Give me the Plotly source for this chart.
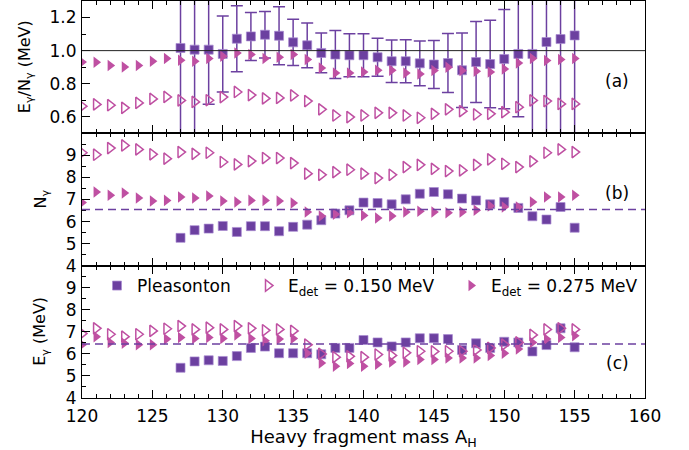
import plotly.graph_objects as go
from plotly.subplots import make_subplots

# Heavy fragment mass numbers
mass_ple = list(range(127, 156))
mass_cal = list(range(120, 156))

# Panel (a): E_gamma / N_gamma (MeV)
ratio_ple = [1.016, 1.006, 1.006, 0.980, 1.072, 1.086, 1.096, 1.090, 1.050, 1.032,
             0.986, 0.976, 0.972, 0.972, 0.960, 0.936, 0.936, 0.923, 0.916, 0.925,
             0.881, 0.931, 0.919, 0.949, 0.980, 0.980, 1.052, 1.070, 1.092]
ratio_ple_err = [0.60, 0.60, 0.33, 0.23, 0.20, 0.145, 0.14, 0.175, 0.14, 0.135,
                 0.12, 0.145, 0.13, 0.13, 0.115, 0.128, 0.13, 0.135, 0.145, 0.178,
                 0.225, 0.245, 0.265, 0.30, 0.38, 0.60, 0.60, 0.60, 0.60]
ratio_150 = [0.664, 0.675, 0.670, 0.654, 0.684, 0.708, 0.720, 0.699, 0.690, 0.700,
             0.719, 0.750, 0.731, 0.711, 0.714, 0.729, 0.695, 0.645, 0.608, 0.598,
             0.608, 0.624, 0.624, 0.608, 0.594, 0.618, 0.645, 0.634, 0.614, 0.618,
             0.628, 0.658, 0.699, 0.695, 0.678, 0.678]
ratio_275 = [0.931, 0.930, 0.910, 0.901, 0.910, 0.936, 0.952, 0.942, 0.936, 0.952,
             0.966, 0.986, 0.976, 0.952, 0.960, 0.976, 0.946, 0.895, 0.865, 0.865,
             0.871, 0.881, 0.881, 0.865, 0.859, 0.880, 0.900, 0.880, 0.875, 0.871,
             0.889, 0.925, 0.952, 0.940, 0.946, 0.952]

# Panel (b): photon multiplicity N_gamma
n_ple = [5.26, 5.61, 5.68, 5.80, 5.53, 5.79, 5.79, 5.56, 5.76, 5.86,
         6.06, 6.36, 6.51, 6.86, 6.84, 6.78, 7.01, 7.26, 7.34, 7.24,
         7.04, 6.96, 6.78, 6.89, 6.62, 6.24, 6.09, 6.66, 5.72]
n_150 = [9.12, 9.03, 9.33, 9.45, 9.27, 9.05, 8.85, 9.15, 9.07, 9.12,
         8.70, 8.59, 8.74, 8.88, 8.88, 8.65, 8.17, 8.12, 8.24, 8.35,
         8.17, 7.97, 8.12, 8.47, 8.57, 8.39, 8.29, 8.32, 8.57, 8.82,
         8.62, 8.47, 8.73, 9.12, 9.27, 9.15]
n_275 = [6.86, 7.34, 7.19, 7.29, 7.07, 6.93, 6.96, 7.11, 7.07, 7.16,
         6.93, 6.89, 6.96, 6.96, 6.93, 6.84, 6.43, 6.25, 6.33, 6.40,
         6.28, 6.16, 6.25, 6.43, 6.47, 6.43, 6.40, 6.43, 6.51, 6.71,
         6.66, 6.66, 6.89, 7.11, 7.11, 7.19]
n_ple_mean = 6.55

# Panel (c): total photon energy E_gamma (MeV)
e_ple = [5.37, 5.66, 5.71, 5.68, 5.90, 6.27, 6.33, 6.03, 6.03, 6.03,
         5.98, 6.27, 6.27, 6.63, 6.52, 6.34, 6.52, 6.71, 6.71, 6.67,
         6.18, 6.48, 6.27, 6.55, 6.52, 6.11, 6.40, 7.16, 6.30]
e_150 = [6.92, 7.16, 6.89, 6.78, 6.89, 7.04, 7.14, 7.26, 7.11, 7.19,
         7.11, 7.26, 7.16, 7.07, 7.11, 7.04, 6.42, 6.00, 5.85, 5.89,
         5.85, 5.97, 5.93, 6.05, 6.12, 6.11, 6.12, 6.12, 6.18, 6.27,
         6.42, 6.52, 6.86, 7.11, 7.16, 7.11]
e_275 = [6.42, 6.78, 6.52, 6.48, 6.42, 6.42, 6.67, 6.74, 6.70, 6.74,
         6.70, 6.86, 6.70, 6.60, 6.67, 6.70, 6.03, 5.59, 5.44, 5.56,
         5.44, 5.53, 5.63, 5.63, 5.75, 5.75, 5.81, 5.81, 5.81, 5.93,
         6.03, 6.22, 6.52, 6.67, 6.74, 6.82]
e_ple_mean = 6.45

names = ["Pleasonton", "E<sub>det</sub> = 0.150 MeV", "E<sub>det</sub> = 0.275 MeV"]
panel_tags = ["(a)", "(b)", "(c)"]

PURPLE = "#6c40a0"
MAGENTA = "#bf50a2"
FONT = "DejaVu Sans, Liberation Sans, sans-serif"

fig = make_subplots(rows=3, cols=1, shared_xaxes=True, vertical_spacing=0)

panels = [
    (ratio_ple, ratio_150, ratio_275),
    (n_ple, n_150, n_275),
    (e_ple, e_150, e_275),
]

legend_ids = ["legend", "legend2", "legend3"]

for row, (ple, lo, hi) in enumerate(panels, start=1):
    show = row == 3
    err = dict(type="data", array=ratio_ple_err, visible=True,
               color=PURPLE, thickness=1.5, width=6) if row == 1 else None
    fig.add_trace(go.Scatter(
        x=mass_ple, y=ple, mode="markers", name=names[0],
        marker=dict(symbol="square", size=9, color=PURPLE,
                    line=dict(width=1, color="rgba(170,140,210,0.7)")),
        error_y=err, showlegend=show, legend=legend_ids[0]), row=row, col=1)
    fig.add_trace(go.Scatter(
        x=mass_cal, y=lo, mode="markers", name=names[1],
        marker=dict(symbol="triangle-right-open", size=10, color=MAGENTA,
                    line=dict(width=1.5, color=MAGENTA)),
        showlegend=show, legend=legend_ids[1]), row=row, col=1)
    fig.add_trace(go.Scatter(
        x=mass_cal, y=hi, mode="markers", name=names[2],
        marker=dict(symbol="triangle-right", size=10, color=MAGENTA,
                    line=dict(width=0)),
        showlegend=show, legend=legend_ids[2]), row=row, col=1)

# Reference lines
fig.add_hline(y=1.0, line=dict(color="#222222", width=1), row=1, col=1)
fig.add_hline(y=n_ple_mean, line=dict(color=PURPLE, width=1.5, dash="8px,5px"), row=2, col=1)
fig.add_hline(y=e_ple_mean, line=dict(color=PURPLE, width=1.5, dash="8px,5px"), row=3, col=1)

axis_common = dict(showline=True, linecolor="black", linewidth=1, showgrid=False,
                   zeroline=False, ticks="inside", tickcolor="black",
                   tickfont=dict(size=17, family=FONT, color="black"))

for row in (1, 2, 3):
    fig.update_xaxes(range=[120, 160], tick0=120, dtick=5, ticklen=8, mirror="ticks",
                     ticklabelstandoff=3,
                     minor=dict(dtick=1, ticklen=4, ticks="inside", tickcolor="black"),
                     row=row, col=1, **axis_common)

fig.update_yaxes(range=[0.5, 1.3], tickmode="linear", tick0=0, dtick=0.2,
                 tickformat=".1f", ticklen=8, mirror=True, ticklabelstandoff=1,
                 minor=dict(tickmode="linear", tick0=0.5, dtick=0.1, ticklen=4,
                            ticks="inside", tickcolor="black"),
                 row=1, col=1, **axis_common)
for row in (2, 3):
    fig.update_yaxes(range=[4, 10], tickmode="array", tickvals=[4, 5, 6, 7, 8, 9],
                     ticklen=8, mirror=True, ticklabelstandoff=1,
                     minor=dict(tickmode="linear", tick0=4, dtick=0.5, ticklen=4,
                                ticks="inside", tickcolor="black"),
                     row=row, col=1, **axis_common)

fig.update_xaxes(title=dict(text="Heavy fragment mass A<sub>H</sub>",
                            font=dict(size=18, family=FONT, color="black"),
                            standoff=5),
                 row=3, col=1)

# Y-axis titles
ytitles = [("E<sub>γ</sub>/N<sub>γ</sub> (MeV)", 25, "y domain"),
           ("N<sub>γ</sub>", 41, "y2 domain"),
           ("E<sub>γ</sub> (MeV)", 41, "y3 domain")]
for text, px, yref in ytitles:
    fig.add_annotation(text=text, x=(px - 82) / 563, xref="paper", y=0.5, yref=yref,
                       textangle=-90, showarrow=False, xanchor="center", yanchor="middle",
                       font=dict(size=16, family=FONT, color="black"))

# Panel tags
tag_y = [80, 192, 362]
for i, tag in enumerate(panel_tags):
    fig.add_annotation(text=tag, x=(617 - 82) / 563, xref="paper",
                       y=1 - tag_y[i] / 397, yref="paper",
                       showarrow=False, xanchor="center", yanchor="middle",
                       font=dict(size=17, family=FONT, color="black"))

legend_style = dict(orientation="h", yanchor="middle", xanchor="left", y=1 - 285 / 397,
                    bgcolor="rgba(0,0,0,0)", borderwidth=0,
                    font=dict(size=17, family=FONT, color="black"))
fig.update_layout(
    legend=dict(x=(97 - 82) / 563, **legend_style),
    legend2=dict(x=(248 - 82) / 563, **legend_style),
    legend3=dict(x=(451 - 82) / 563, **legend_style),
)

fig.update_layout(
    width=689, height=450,
    margin=dict(l=82, r=44, t=1, b=52),
    paper_bgcolor="white", plot_bgcolor="white",
    font=dict(family=FONT, color="black"),
)

fig.write_html("out.html")
